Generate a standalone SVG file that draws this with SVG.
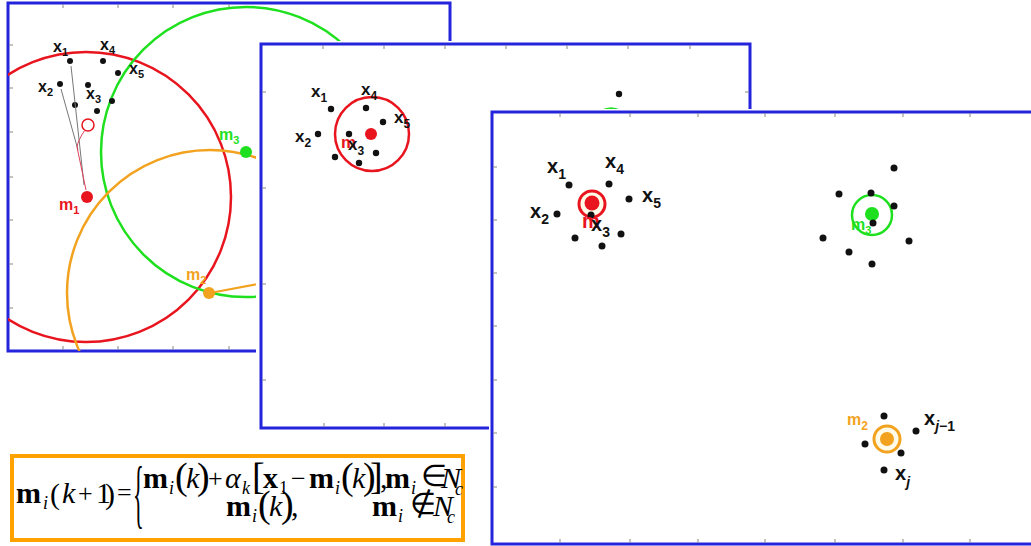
<svg xmlns="http://www.w3.org/2000/svg" width="1031" height="546" viewBox="0 0 1031 546">
<defs>
<style>
.frame{fill:#fff;stroke:#2424dc;stroke-width:3}
.tick{stroke:#888;stroke-width:1;fill:none}
.dot{fill:#111}
.lbl{font-family:"Liberation Sans",Arial,sans-serif;font-weight:bold;fill:#111}
.red{fill:#e8141e}
.grn{fill:#1ee01e}
.org{fill:#f2a21e}
.f{font-family:"Liberation Serif","Times New Roman",serif;font-size:30px;fill:#000}
.b{font-weight:bold}
.it{font-style:italic}
.sub{font-size:18px}
.op{font-size:26px}
.par{font-size:38px}
</style>
<clipPath id="c1"><rect x="8" y="3" width="442" height="348"/></clipPath>
</defs>
<rect width="1031" height="546" fill="#fff"/>

<g id="panel1">
<rect class="frame" x="8" y="3" width="442" height="348"/>
<path class="tick" d="M63 4v4M118 4v4M173 4v4M229 4v4M63 350v-4M118 350v-4M173 350v-4M229 350v-4M9 45h4M9 88h4M9 132h4M9 177h4M9 220h4M9 264h4M9 308h4"/>
<g clip-path="url(#c1)" fill="none" stroke-width="2.5">
<circle cx="86" cy="197" r="145" stroke="#e8141e"/>
<circle cx="246" cy="152" r="145" stroke="#1ee01e"/>
<circle cx="210" cy="293" r="143" stroke="#f2a21e"/>
<line x1="210" y1="293" x2="258" y2="284" stroke="#f2a21e" stroke-width="2"/>
</g>
<circle class="red" cx="87" cy="197" r="6"/>
<circle class="grn" cx="246" cy="152" r="6"/>
<circle class="org" cx="209" cy="293" r="6"/>
<circle cx="88" cy="125" r="6" fill="none" stroke="#e8141e" stroke-width="1.5"/>
<g class="dot">
<circle cx="70" cy="61" r="3"/><circle cx="103" cy="61" r="3"/><circle cx="118" cy="73" r="3"/>
<circle cx="60" cy="84" r="3"/><circle cx="88" cy="85" r="3"/><circle cx="75" cy="105" r="3"/>
<circle cx="112" cy="101" r="3"/><circle cx="97" cy="111" r="3"/>
</g>
<text class="lbl" font-size="16" x="53" y="52">x<tspan font-size="11" dy="4">1</tspan></text>
<text class="lbl" font-size="16" x="100" y="50">x<tspan font-size="11" dy="4">4</tspan></text>
<text class="lbl" font-size="16" x="129" y="74">x<tspan font-size="11" dy="4">5</tspan></text>
<text class="lbl" font-size="16" x="38" y="92">x<tspan font-size="11" dy="4">2</tspan></text>
<text class="lbl" font-size="16" x="86" y="99">x<tspan font-size="11" dy="4">3</tspan></text>
<text class="lbl red" font-size="16" x="59" y="210">m<tspan font-size="11" dy="4">1</tspan></text>
<text class="lbl grn" font-size="16" x="219" y="140">m<tspan font-size="11" dy="4">3</tspan></text>
<text class="lbl org" font-size="16" x="186" y="280">m<tspan font-size="11" dy="4">2</tspan></text>
</g>

<g id="connectors" fill="none">
<line x1="71" y1="66" x2="84" y2="185" stroke="#777" stroke-width="1"/>
<line x1="61" y1="89" x2="78" y2="150" stroke="#777" stroke-width="1"/>
<path d="M85 130 Q78 140 77 147 L86 190" stroke="#e0405a" stroke-width="1"/>
</g>

<g id="panel2">
<rect x="256" y="41" width="496" height="390" fill="#fff"/>
<rect class="frame" x="261" y="44" width="489" height="384"/>
<path class="tick" d="M323 45v4M384 45v4M445 45v4M506 45v4M567 45v4M628 45v4M690 45v4M324 427v-4M384 427v-4M445 427v-4M262 92h4M262 188h4M262 284h4M262 380h4M749 92h-4"/>
<circle cx="372" cy="134" r="37" fill="none" stroke="#e8141e" stroke-width="2.5"/>
<circle class="red" cx="371" cy="134" r="6"/>
<g class="dot">
<circle cx="331" cy="109" r="3.2"/><circle cx="366" cy="108" r="3.2"/><circle cx="383" cy="122" r="3.2"/>
<circle cx="318" cy="134" r="3.2"/><circle cx="349" cy="134" r="3.2"/><circle cx="335" cy="157" r="3.2"/>
<circle cx="376" cy="153" r="3.2"/><circle cx="359" cy="163" r="3.2"/><circle cx="619" cy="94" r="3.2"/>
</g>
<path d="M600 112 Q611 105 622 112" fill="none" stroke="#1ee01e" stroke-width="2.5"/>
<text class="lbl" font-size="17" x="311" y="97">x<tspan font-size="12" dy="5">1</tspan></text>
<text class="lbl" font-size="17" x="361" y="95">x<tspan font-size="12" dy="5">4</tspan></text>
<text class="lbl" font-size="17" x="394" y="123">x<tspan font-size="12" dy="5">5</tspan></text>
<text class="lbl" font-size="17" x="295" y="142">x<tspan font-size="12" dy="5">2</tspan></text>
<text class="lbl red" font-size="17" x="341" y="148">m</text>
<text class="lbl" font-size="17" x="348" y="150">x<tspan font-size="12" dy="5">3</tspan></text>
</g>

<g id="panel3">
<rect x="489" y="109" width="545" height="440" fill="#fff"/>
<rect class="frame" x="492" y="112" width="545" height="432"/>
<path class="tick" d="M560 113v4M630 113v4M698 113v4M765 113v4M835 113v4M903 113v4M970 113v4M560 543v-4M630 543v-4M698 543v-4M765 543v-4M835 543v-4M903 543v-4M970 543v-4M493 167h4M493 220h4M493 273h4M493 326h4M493 380h4M493 433h4M493 487h4"/>
</g>

<g id="cluster-red">
<circle cx="592" cy="204" r="13" fill="#fffbe8" stroke="#e8141e" stroke-width="3"/>
<circle class="red" cx="592" cy="203" r="7.5"/>
<g class="dot">
<circle cx="569" cy="185" r="3.5"/><circle cx="609" cy="184" r="3.5"/><circle cx="629" cy="199" r="3.5"/>
<circle cx="557" cy="214" r="3.5"/><circle cx="591" cy="215" r="3.5"/><circle cx="575" cy="238" r="3.5"/>
<circle cx="621" cy="234" r="3.5"/><circle cx="602" cy="246" r="3.5"/>
</g>
<text class="lbl" font-size="20" x="547" y="173">x<tspan font-size="14" dy="6">1</tspan></text>
<text class="lbl" font-size="20" x="605" y="168">x<tspan font-size="14" dy="6">4</tspan></text>
<text class="lbl" font-size="20" x="642" y="202">x<tspan font-size="14" dy="6">5</tspan></text>
<text class="lbl" font-size="20" x="530" y="218">x<tspan font-size="14" dy="6">2</tspan></text>
<text class="lbl red" font-size="20" x="582" y="228">m</text>
<text class="lbl" font-size="20" x="591" y="231">x<tspan font-size="14" dy="6">3</tspan></text>
</g>

<g id="cluster-green">
<circle cx="872" cy="215" r="20" fill="none" stroke="#1ee01e" stroke-width="2.5"/>
<circle class="grn" cx="872" cy="214" r="7"/>
<g class="dot">
<circle cx="894" cy="168" r="3.5"/><circle cx="839" cy="194" r="3.5"/><circle cx="871" cy="193" r="3.5"/>
<circle cx="894" cy="206" r="3.5"/><circle cx="823" cy="238" r="3.5"/><circle cx="849" cy="252" r="3.5"/>
<circle cx="909" cy="241" r="3.5"/><circle cx="872" cy="264" r="3.5"/><circle cx="873" cy="223" r="3.5"/>
</g>
<text class="lbl grn" font-size="16" x="851" y="230">m<tspan font-size="11" dy="4">3</tspan></text>
</g>

<g id="cluster-orange">
<circle cx="887" cy="439" r="13" fill="#fffbe8" stroke="#f2a21e" stroke-width="3"/>
<circle class="org" cx="887" cy="439" r="7"/>
<g class="dot">
<circle cx="884" cy="416" r="3.5"/><circle cx="916" cy="431" r="3.5"/><circle cx="865" cy="444" r="3.5"/>
<circle cx="901" cy="453" r="3.5"/><circle cx="884" cy="470" r="3.5"/>
</g>
<text class="lbl org" font-size="16" x="847" y="425">m<tspan font-size="12" dy="5">2</tspan></text>
<text class="lbl" font-size="20" x="924" y="425">x<tspan font-size="14" dy="6" font-style="italic">j</tspan><tspan font-size="14">−1</tspan></text>
<text class="lbl" font-size="20" x="895" y="480">x<tspan font-size="14" dy="7" font-style="italic">j</tspan></text>
</g>

<g id="formula">
<rect x="12" y="456" width="451" height="84" fill="#fff" stroke="#ffa200" stroke-width="4"/>
<text class="f b" x="16" y="503">m</text>
<text class="f it sub" x="43" y="509">i</text>
<text class="f" x="50" y="504" font-size="42">(</text>
<text class="f it" x="62" y="503">k</text>
<text class="f op" x="78" y="502">+</text>
<text class="f" x="96" y="503">1</text>
<text class="f" x="105" y="504" font-size="42">)</text>
<text class="f op" x="117" y="501">=</text>
<text class="f" transform="translate(133,519) scale(0.75,2.55)" font-size="34">{</text>
<text class="f b" x="143" y="488">m</text>
<text class="f it sub" x="169" y="494">i</text>
<text class="f par" x="175" y="489">(</text>
<text class="f it" x="186" y="488">k</text>
<text class="f par" x="197" y="489">)</text>
<text class="f op" x="208" y="487">+</text>
<text class="f it" x="225" y="488">α</text>
<text class="f it sub" x="242" y="494">k</text>
<text class="f par" x="252" y="489">[</text>
<text class="f b" x="263" y="488">x</text>
<text class="f sub" x="279" y="494">1</text>
<text class="f op" x="291" y="487">−</text>
<text class="f b" x="309" y="488">m</text>
<text class="f it sub" x="335" y="494">i</text>
<text class="f par" x="341" y="489">(</text>
<text class="f it" x="352" y="488">k</text>
<text class="f par" x="363" y="489">)</text>
<text class="f par" x="370" y="489">]</text>
<text class="f" x="380" y="488">,</text>
<text class="f b" x="385" y="488">m</text>
<text class="f it sub" x="411" y="494">i</text>
<text class="f" x="421" y="486" font-size="17">∈</text>
<text class="f it" x="441" y="488" font-size="20">N</text>
<text class="f it sub" x="455" y="495" font-size="13">c</text>
<text class="f b" x="226" y="516">m</text>
<text class="f it sub" x="252" y="522">i</text>
<text class="f par" x="258" y="517">(</text>
<text class="f it" x="269" y="516">k</text>
<text class="f par" x="281" y="517">)</text>
<text class="f" x="291" y="516">,</text>
<text class="f b" x="372" y="516">m</text>
<text class="f it sub" x="398" y="522">i</text>
<text class="f" x="410" y="514" font-size="17">∉</text>
<text class="f it" x="433" y="516" font-size="20">N</text>
<text class="f it sub" x="447" y="523" font-size="13">c</text>
</g>
</svg>
